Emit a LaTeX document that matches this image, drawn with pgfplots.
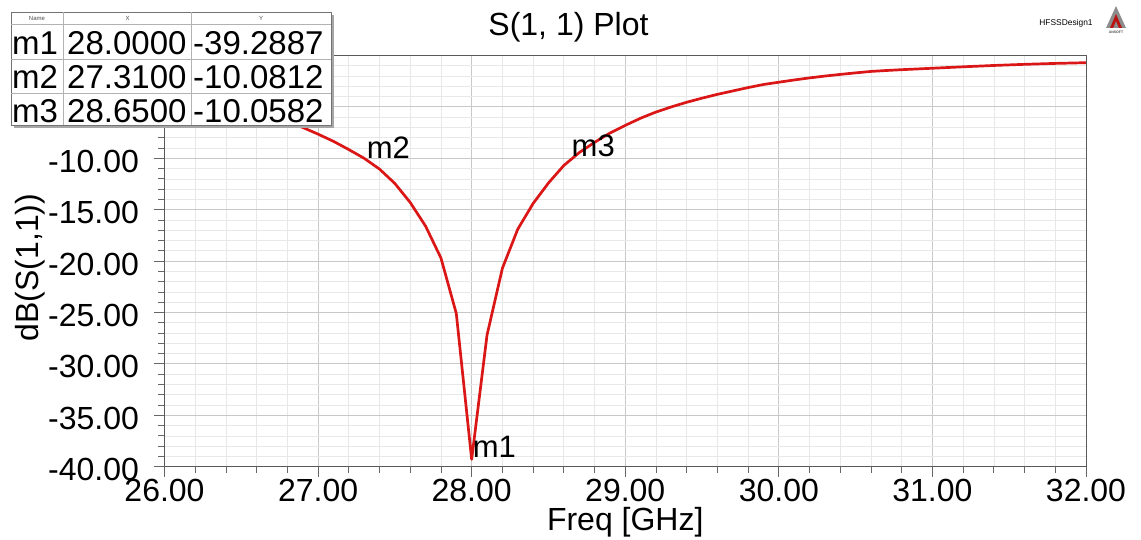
\documentclass[border=0pt]{standalone}
\usepackage{pgfplots}
\pgfplotsset{compat=1.18}
\usepackage{fontspec}
\setmainfont{Liberation Sans}
\definecolor{curvered}{RGB}{218,22,22}
\definecolor{majgrid}{RGB}{200,200,200}
\definecolor{mingrid}{RGB}{232,232,232}
\begin{document}
\begin{tikzpicture}[x=1pt,y=1pt]
\path[use as bounding box] (0,0) rectangle (1141,540);
\begin{axis}[
  at={(164.5pt,73.3pt)}, anchor=south west,
  scale only axis, width=921.5pt, height=411.2pt,
  xmin=26, xmax=32, ymin=-40, ymax=0,
  xtick={26,27,...,32}, ytick={-40,-35,...,0},
  yticklabels={-40.00,-35.00,-30.00,-25.00,-20.00,-15.00,-10.00,,},
  minor x tick num=4, minor y tick num=4,
  grid=both,
  major grid style={majgrid, line width=0.8pt},
  minor grid style={mingrid, line width=0.7pt},
  tick align=outside,
  major tick length=10pt, minor tick length=6pt,
  tick style={black!60, line width=0.8pt},
  axis line style={black!65, line width=1pt},
  xtick pos=bottom, ytick pos=left,
  /pgf/number format/assume math mode=true,
  /pgf/number format/.cd, fixed, fixed zerofill, precision=2, /pgfplots/.cd,
  ticklabel style={font=\fontsize{32}{32}\selectfont},
  xticklabel style={yshift=1.5pt},
  yticklabel style={xshift=-12pt, yshift=-3pt},
  xlabel={Freq [GHz]},
  ylabel={dB(S(1,1))},
  label style={font=\fontsize{32}{32}\selectfont},
  xlabel style={at={(axis description cs:0.5,0)}, anchor=base, yshift=-64pt},
  ylabel style={at={(axis description cs:0,0.484)}, anchor=base, yshift=125.5pt},
  title={S(1, 1) Plot},
  title style={font=\fontsize{32}{32}\selectfont, at={(axis description cs:0.4384,1)}, anchor=base, yshift=14pt},
  clip=false,
]
\addplot[curvered, line width=2.7pt, line join=round] coordinates {
(26.0,-3.60) (26.1,-3.85) (26.2,-4.10) (26.3,-4.40) (26.4,-4.70)
(26.5,-5.05) (26.6,-5.45) (26.7,-5.90) (26.8,-6.40) (26.9,-7.00)
(27.0,-7.65) (27.1,-8.35) (27.2,-9.15) (27.3,-10.00) (27.4,-11.05)
(27.5,-12.45) (27.6,-14.30) (27.7,-16.60) (27.8,-19.70) (27.9,-25.10)
(28.0,-39.29) (28.1,-27.20) (28.2,-20.70) (28.3,-16.90) (28.4,-14.40)
(28.5,-12.40) (28.6,-10.70) (28.7,-9.45) (28.8,-8.45) (28.9,-7.55)
(29.0,-6.80) (29.1,-6.10) (29.2,-5.50) (29.3,-5.00) (29.4,-4.55)
(29.5,-4.15) (29.6,-3.78) (29.7,-3.45) (29.8,-3.12) (29.9,-2.82)
(30.0,-2.60) (30.1,-2.38) (30.2,-2.18) (30.3,-2.00) (30.4,-1.84)
(30.5,-1.69) (30.6,-1.55) (30.7,-1.46) (30.8,-1.38) (30.9,-1.31)
(31.0,-1.24) (31.2,-1.10) (31.4,-0.97) (31.6,-0.86) (31.8,-0.77)
(32.0,-0.70)
};
\node[anchor=base west, font=\fontsize{31}{31}\selectfont, inner sep=0pt, xshift=1pt, yshift=2pt] at (axis cs:28.0,-39.2887) {m1};
\node[anchor=base west, font=\fontsize{31}{31}\selectfont, inner sep=0pt, xshift=1pt, yshift=1pt] at (axis cs:27.31,-10.0812) {m2};
\node[anchor=base west, font=\fontsize{31}{31}\selectfont, inner sep=0pt, xshift=0pt, yshift=2pt] at (axis cs:28.65,-10.0582) {m3};
\end{axis}
% marker table
\fill[black!35] (14,412) rectangle (334,525);
\fill[white] (11,415) rectangle (331,528);
\draw[black!55, line width=0.8pt] (11,415) rectangle (331,528);
\draw[black!30, line width=0.6pt] (11,516) -- (331,516);
\draw[black!30, line width=0.6pt] (11,481) -- (331,481);
\draw[black!30, line width=0.6pt] (11,447) -- (331,447);
\draw[black!30, line width=0.6pt] (63.3,415) -- (63.3,528);
\draw[black!30, line width=0.6pt] (191.7,415) -- (191.7,528);
\node[font=\fontsize{6}{6}\selectfont, text=black!70] at (37,522) {Name};
\node[font=\fontsize{6}{6}\selectfont, text=black!70] at (127.5,522) {X};
\node[font=\fontsize{6}{6}\selectfont, text=black!70] at (261,522) {Y};
\begin{scope}[every node/.style={font=\fontsize{33}{33}\selectfont, inner sep=0pt, anchor=base west}]
\node at (12,485) {m1};
\node at (67,485) {28.0000};
\node at (193,485) {-39.2887};
\node at (12,451) {m2};
\node at (67,451) {27.3100};
\node at (193,451) {-10.0812};
\node at (12,417.5) {m3};
\node at (67,417.5) {28.6500};
\node at (193,417.5) {-10.0582};
\end{scope}
% header decorations
\node[font=\fontsize{8.4}{8.4}\selectfont, anchor=base] at (1066,514) {HFSSDesign1};
\fill[black!45] (1106,512) -- (1126,512) -- (1116,534) -- cycle;
\fill[curvered!85!black] (1110,512) -- (1116,526) -- (1122,512) -- (1119,512) -- (1116,519) -- (1113,512) -- cycle;
\node[font=\fontsize{3.5}{3.5}\selectfont\bfseries, text=black!70] at (1116,508) {ANSOFT};
\end{tikzpicture}
\end{document}
